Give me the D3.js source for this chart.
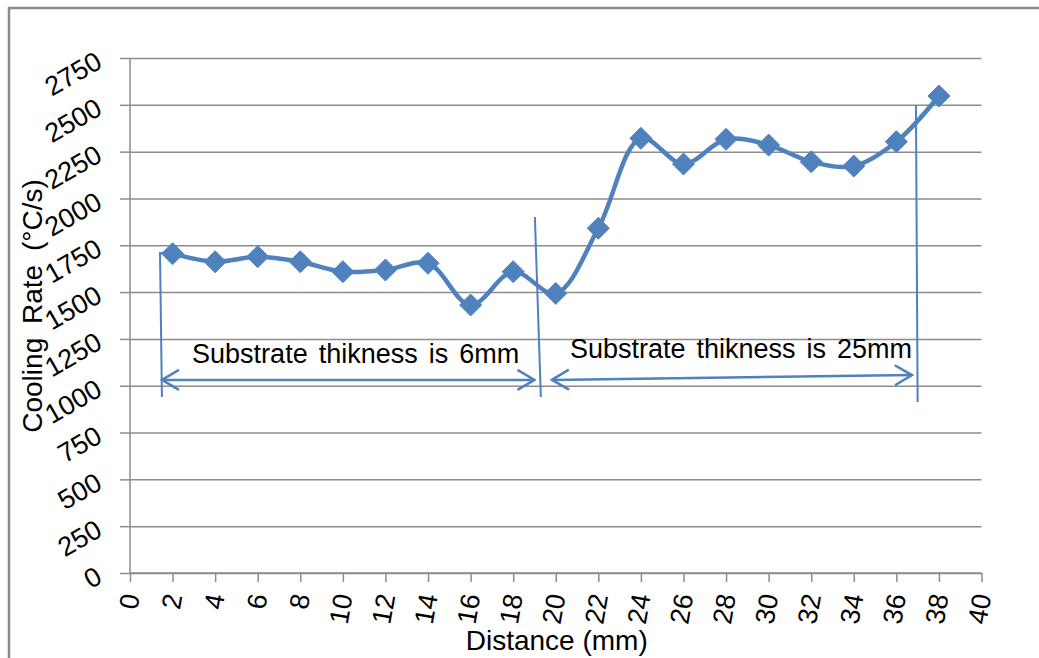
<!DOCTYPE html>
<html>
<head>
<meta charset="utf-8">
<title>Cooling rate vs distance</title>
<script src="https://cdn.jsdelivr.net/npm/d3@7"></script>
<style>
  html, body { margin: 0; padding: 0; background: #ffffff; }
  svg { display: block; font-family: "Liberation Sans", Arial, sans-serif; }
</style>
</head>
<body>
<svg id="chart" width="1039" height="658"></svg>
<script>
// Measured cooling rate along the deposit (distance in mm, rate in °C/s)
const distance = [2, 4, 6, 8, 10, 12, 14, 16, 18, 20, 22, 24, 26, 28, 30, 32, 34, 36, 38];
const coolingRate = [1705, 1662, 1689, 1662, 1609, 1618, 1654, 1431, 1609, 1493,
                     1841, 2321, 2184, 2316, 2285, 2196, 2173, 2303, 2547];

// Axis ticks
const xTickValues = [0, 2, 4, 6, 8, 10, 12, 14, 16, 18, 20, 22, 24, 26, 28, 30, 32, 34, 36, 38, 40];
const yTickValues = [0, 250, 500, 750, 1000, 1250, 1500, 1750, 2000, 2250, 2500, 2750];

// Region markers, in data units: divider lines, double arrows and their captions
const dividerLines = [
  [[2, 1705], [1.41, 1709], [1.50, 940]],
  [[19.02, 1901], [19.30, 940]],
  [[36.92, 2499], [37.00, 913]]
];
const spanArrows = [
  [[1.50, 1031], [19.00, 1031]],
  [[19.82, 1031], [36.73, 1057]]
];
const spanLabels = ["Substrate thikness is 6mm", "Substrate thikness is 25mm"];
const spanLabelPos = [[10.6, 1121], [28.7, 1148]];

const BLUE = "#4f81bd";
const GRID = "#8c8c8c";
const FONT_SIZE = 27;

const svg = d3.select("#chart");

const x = d3.scaleLinear().domain([0, 40]).range([130, 981.5]);
const y = d3.scaleLinear().domain([0, 2750]).range([573, 58]);

// Chart frame (only the top and left edges fall inside the page)
svg.append("rect")
  .attr("x", 9).attr("y", 8)
  .attr("width", 1100).attr("height", 700)
  .attr("fill", "none")
  .attr("stroke", "#8a8a8a")
  .attr("stroke-width", 2.5);

// Horizontal gridlines with short outside ticks on the value axis
const yAxis = svg.append("g")
  .attr("transform", `translate(${x(0)},0)`)
  .call(d3.axisLeft(y)
    .tickValues(yTickValues)
    .tickSize(10)
    .tickFormat(d3.format("d")));
yAxis.select(".domain").attr("stroke", GRID).attr("stroke-width", 1.5)
  .attr("d", `M0,${y(2750)}V${y(0)}`);
yAxis.selectAll(".tick line").attr("stroke", GRID).attr("stroke-width", 1.5);
yAxis.selectAll(".tick")
  .append("line")
  .attr("x1", 0).attr("x2", x(40) - x(0))
  .attr("stroke", GRID).attr("stroke-width", 1.5);
yAxis.selectAll(".tick text")
  .attr("x", null).attr("dy", "0.35em")
  .attr("transform", "translate(-31,0) rotate(-30)")
  .attr("text-anchor", "end")
  .attr("fill", "#000")
  .style("font-size", FONT_SIZE + "px")
  .style("font-family", "'Liberation Sans', Arial, sans-serif");

// Distance axis
const xAxis = svg.append("g")
  .attr("transform", `translate(0,${y(0)})`)
  .call(d3.axisBottom(x)
    .tickValues(xTickValues)
    .tickSize(9)
    .tickFormat(d3.format("d")));
xAxis.select(".domain").attr("stroke", GRID).attr("stroke-width", 1.5)
  .attr("d", `M${x(0)},0H${x(40)}`);
xAxis.selectAll(".tick line").attr("stroke", GRID).attr("stroke-width", 1.5);
xAxis.selectAll(".tick text")
  .attr("y", null).attr("dy", "0.35em")
  .attr("transform", "translate(0,21) rotate(-80)")
  .attr("text-anchor", "end")
  .attr("fill", "#000")
  .style("font-size", FONT_SIZE + "px")
  .style("font-family", "'Liberation Sans', Arial, sans-serif");

// Axis titles
svg.append("text")
  .attr("transform", `translate(42,306) rotate(-90)`)
  .attr("text-anchor", "middle")
  .style("font-size", "28px")
  .style("word-spacing", "6px")
  .text("Cooling Rate (°C/s)");

svg.append("text")
  .attr("x", (x(0) + x(40)) / 2 + 1)
  .attr("y", 650)
  .attr("text-anchor", "middle")
  .style("font-size", "28px")
  .text("Distance (mm)");

// Region divider lines
const plain = d3.line().x(d => x(d[0])).y(d => y(d[1]));
svg.append("g").selectAll("path")
  .data(dividerLines)
  .join("path")
  .attr("d", plain)
  .attr("fill", "none")
  .attr("stroke", BLUE)
  .attr("stroke-width", 2);

// Open arrowheads for the span arrows
const defs = svg.append("defs");
defs.append("marker")
  .attr("id", "openHead")
  .attr("markerUnits", "userSpaceOnUse")
  .attr("viewBox", "-20 -12 22 24")
  .attr("refX", 0).attr("refY", 0)
  .attr("markerWidth", 22).attr("markerHeight", 24)
  .attr("orient", "auto-start-reverse")
  .append("path")
  .attr("d", "M-17,-10L0,0L-17,10")
  .attr("fill", "none")
  .attr("stroke", BLUE)
  .attr("stroke-width", 2.5);

svg.append("g").selectAll("path")
  .data(spanArrows)
  .join("path")
  .attr("d", plain)
  .attr("fill", "none")
  .attr("stroke", BLUE)
  .attr("stroke-width", 2.5)
  .attr("marker-start", "url(#openHead)")
  .attr("marker-end", "url(#openHead)");

svg.append("g").selectAll("text")
  .data(spanLabels)
  .join("text")
  .attr("x", (d, i) => x(spanLabelPos[i][0]))
  .attr("y", (d, i) => y(spanLabelPos[i][1]))
  .attr("text-anchor", "middle")
  .style("font-size", FONT_SIZE + "px")
  .style("word-spacing", "3.5px")
  .text(d => d);

// Smoothed series line
const points = distance.map((d, i) => [d, coolingRate[i]]);
svg.append("path")
  .datum(points)
  .attr("d", d3.line().x(d => x(d[0])).y(d => y(d[1])).curve(d3.curveCatmullRom))
  .attr("fill", "none")
  .attr("stroke", BLUE)
  .attr("stroke-width", 4.5)
  .attr("stroke-linejoin", "round");

// Diamond markers
const r = 11;
svg.append("g").selectAll("path")
  .data(points)
  .join("path")
  .attr("transform", d => `translate(${x(d[0])},${y(d[1])})`)
  .attr("d", `M0,${-r}L${r},0L0,${r}L${-r},0Z`)
  .attr("fill", BLUE)
  .attr("stroke", BLUE)
  .attr("stroke-width", 1);
</script>
</body>
</html>
